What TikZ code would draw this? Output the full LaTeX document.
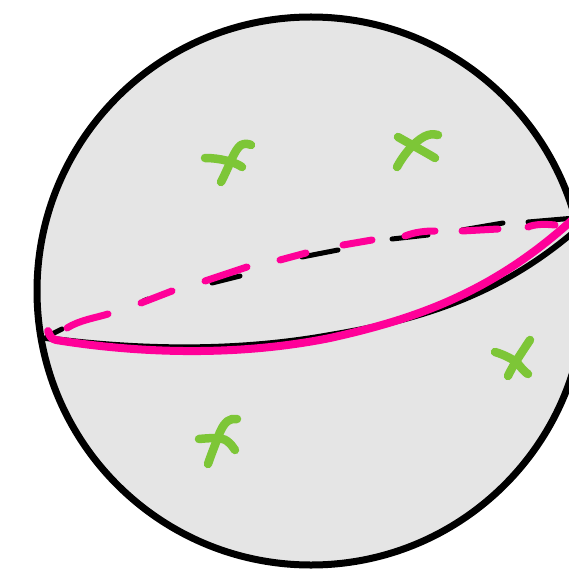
\documentclass[tikz,border=0pt]{standalone}
\definecolor{sphfill}{RGB}{229,229,229}
\definecolor{mypink}{RGB}{255,0,153}
\definecolor{mygreen}{RGB}{125,198,55}
\tikzset{
  blk/.style={line width=5pt, line cap=round, line join=round, black},
  pnk/.style={line width=7pt, line cap=round, line join=round, mypink},
  grn/.style={line width=8.5pt, line cap=round, line join=round, mygreen},
}
\begin{document}
\begin{tikzpicture}[x=1pt,y=-1pt]
\useasboundingbox (0,0) rectangle (569,569);
\clip (0,0) rectangle (569,569);
\fill[white] (0,0) rectangle (569,569);
% sphere
\draw[line width=7pt, fill=sphfill] (311,291) circle[radius=274pt];
% front equator, black
\draw[blk, line width=6pt] (46,338) .. controls (130,349) and (230,353) .. (330,335) .. controls (420,320) and (505,295) .. (585,222);
\draw[blk] (48,336) -- (62,329);
% back equator, black dashes
\draw[blk] (212,283) -- (240,276);
\draw[blk] (302,257) -- (338,250);
\draw[blk] (392,239) -- (428,235);
\draw[blk] (462,230) -- (503,223);
\draw[blk] (528,222) -- (575,218);
\draw[blk, line width=3pt] (143,300) -- (148,298);
% front equator, pink
\draw[pnk, line width=8pt] (48,331) .. controls (50,337) and (52,339) .. (56,340) .. controls (130,352) and (230,358) .. (330,338) .. controls (420,318) and (500,290) .. (585,208);
% back equator, pink dashes
\draw[pnk] (67,328) .. controls (80,320) and (95,318) .. (108,314);
\draw[pnk] (141,303) -- (172,291);
\draw[pnk] (205,281) -- (247,267);
\draw[pnk] (280,260) -- (306,253);
\draw[pnk] (343,245) -- (372,240);
\draw[pnk] (405,236) .. controls (415,232) and (425,231) .. (435,231);
\draw[pnk] (462,231) -- (498,229);
\draw[pnk] (528,227) .. controls (535,224) and (545,224) .. (555,225);
% green crosses
\draw[grn] (205,158) .. controls (220,158) and (235,162) .. (242,167);
\draw[grn] (221,182) .. controls (230,165) and (234,150) .. (241,145) .. controls (245,143) and (249,144) .. (251,145);
\draw[grn] (398,137) .. controls (412,145) and (425,152) .. (435,158);
\draw[grn] (397,167) .. controls (405,152) and (418,138) .. (428,135) .. controls (432,134) and (435,134) .. (438,135);
\draw[grn] (495,352) .. controls (505,355) and (515,360) .. (519,365) .. controls (523,370) and (526,373) .. (528,374);
\draw[grn] (530,340) .. controls (520,355) and (512,367) .. (508,376);
\draw[grn] (199,439) .. controls (210,438) and (222,437) .. (227,441) .. controls (231,444) and (233,447) .. (235,450);
\draw[grn] (237,419) .. controls (230,418) and (225,421) .. (220,432) .. controls (215,445) and (211,455) .. (208,464);
\end{tikzpicture}
\end{document}
